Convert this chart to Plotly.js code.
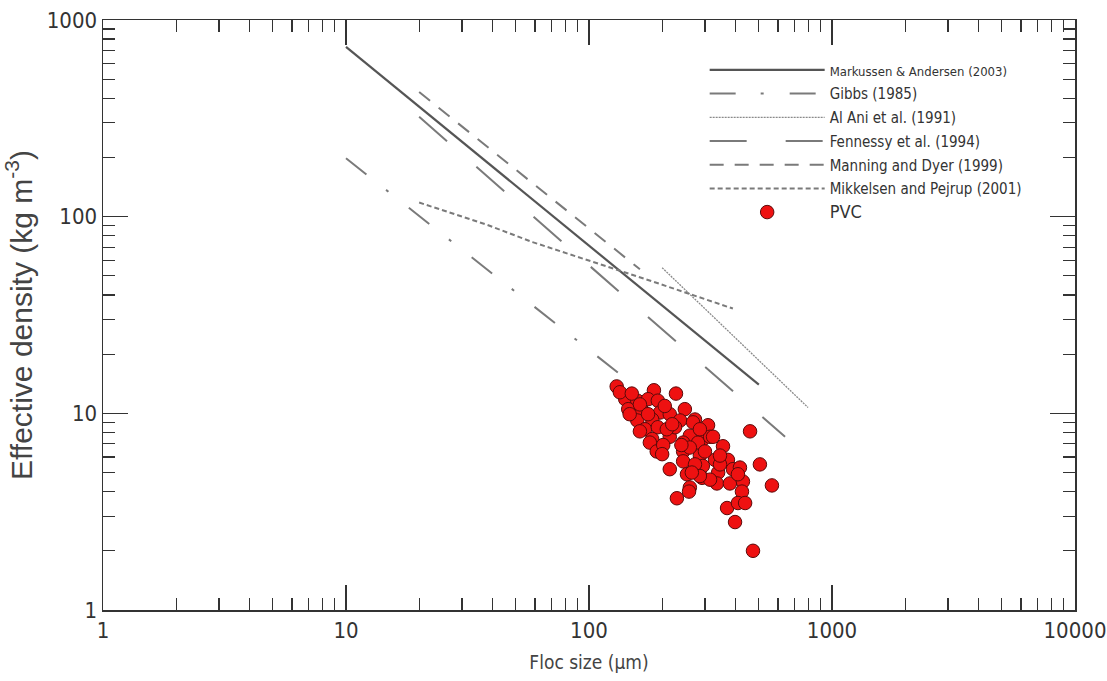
<!DOCTYPE html>
<html>
<head>
<meta charset="utf-8">
<script src="https://cdn.plot.ly/plotly-3.0.1.min.js"></script>
<style>html,body{margin:0;padding:0;background:#fff;}#chart{width:1107px;height:681px;}</style>
</head>
<body>
<div id="chart"></div>
<script>
// Literature effective density relations (floc size µm, density kg m-3)
const markussenX = [10, 500];
const markussenY = [730, 14];
const gibbsX = [10, 152];
const gibbsY = [198, 14];
const alAniX = [200, 797];
const alAniY = [55, 10.7];
const fennessyX = [20, 641];
const fennessyY = [322, 7.6];
const manningX = [20, 162];
const manningY = [430, 54];
const mikkelsenX = [20, 38, 59, 98, 183, 278, 391];
const mikkelsenY = [118, 91, 74, 60.5, 46.8, 39.3, 34.1];

// PVC measurements
const pvcSize = [130,185,228,141,158,175,192,145,165,196,215,248,273,158,182,237,170,192,215,260,
  182,292,244,309,268,178,190,244,281,315,356,244,286,330,373,215,253,294,340,391,
  292,336,380,260,505,566,418,430,426,370,410,439,399,473,230,258,460,134,150,205,
  226,260,202,300,346,273,315,324,162,209,162,200,175,286,346,286,410,220,147,240,265];
const pvcDensity = [13.7,13.1,12.6,11.8,11.6,11.8,11.6,10.5,10.4,10.1,9.9,10.5,9.3,9.2,9.3,9.2,8.3,8.5,7.6,7.7,
  7.4,7.3,7.1,8.7,9.0,7.1,6.4,6.4,7.1,7.6,6.8,5.7,6.1,5.8,5.8,5.2,4.9,5.4,5.0,5.2,
  4.7,4.4,4.4,4.2,5.5,4.3,5.3,4.5,4.0,3.3,3.5,3.5,2.8,2.0,3.7,4.0,8.1,12.8,12.6,10.9,
  8.5,6.7,6.9,6.4,5.5,5.5,4.6,7.6,11.1,8.3,8.1,6.2,9.9,8.3,6.1,4.8,4.9,8.8,9.9,6.9,5.0];

const xTickVals = [1, 10, 100, 1000, 10000];
const xTickText = ['1', '10', '100', '1000', '10000'];
const yTickVals = [1, 10, 100, 1000];
const yTickText = ['1', '10', '100', '1000'];

function minorVals(lo, hi) {
  const v = [];
  for (let d = lo; d < hi; d++) for (let k = 2; k <= 9; k++) v.push(k * Math.pow(10, d));
  return v;
}

const NARROW = 'Liberation Sans Narrow, DejaVu Sans Condensed, Arial Narrow, Liberation Sans, sans-serif';

const traces = [
  {x: markussenX, y: markussenY, mode: 'lines', legendgroup: 'a', name: '<span style="font-size:13px">Markussen &amp; Andersen (2003)</span>',
   line: {color: '#555555', width: 2.2}},
  {x: gibbsX, y: gibbsY, mode: 'lines', legendgroup: 'b', name: 'Gibbs (1985)',
   line: {color: '#7a7a7a', width: 2, dash: '26px,25px,3px,26px'}},
  {x: alAniX, y: alAniY, mode: 'lines', legendgroup: 'c', name: 'Al Ani et al. (1991)',
   line: {color: '#8a8a8a', width: 1.3, dash: '2px,1px'}},
  {x: fennessyX, y: fennessyY, mode: 'lines', legendgroup: 'd', name: 'Fennessy et al. (1994)',
   line: {color: '#7a7a7a', width: 2, dash: '37px,39px'}},
  {x: manningX, y: manningY, mode: 'lines', legendgroup: 'e', name: 'Manning and Dyer (1999)',
   line: {color: '#7a7a7a', width: 2, dash: '14px,11px'}},
  {x: mikkelsenX, y: mikkelsenY, mode: 'lines', legendgroup: 'f', name: 'Mikkelsen and Pejrup (2001)',
   line: {color: '#7a7a7a', width: 2, dash: '5px,3px'}},
  {x: pvcSize, y: pvcDensity, mode: 'markers', legendgroup: 'g', name: '<span style="font-size:18px">PVC</span>',
   marker: {color: '#ee1111', size: 13.5, line: {color: '#5a0a0a', width: 1}}}
];

const axisCommon = {
  type: 'log', showgrid: false, zeroline: false, showline: true, linecolor: '#333333', linewidth: 1.5,
  mirror: 'ticks', ticks: 'inside', ticklen: 25, tickwidth: 1.3, tickcolor: '#333333',
  tickfont: {family: NARROW, size: 22, color: '#333333'},
  tickmode: 'array'
};

const layout = {
  width: 1107, height: 681,
  margin: {l: 103, r: 32, t: 20, b: 71},
  paper_bgcolor: '#ffffff', plot_bgcolor: '#ffffff',
  font: {family: 'Liberation Sans, Arial, sans-serif', color: '#333333'},
  showlegend: true,
  legend: {x: 0.619, y: 0.943, xanchor: 'left', yanchor: 'top', bgcolor: 'rgba(0,0,0,0)',
           font: {family: NARROW, size: 15, color: '#333333'}, itemwidth: 115, tracegroupgap: 1.2},
  xaxis: Object.assign({}, axisCommon, {
    range: [0, 4], tickvals: xTickVals, ticktext: xTickText,
    minor: {tickmode: 'array', tickvals: minorVals(0, 4), ticks: 'inside', ticklen: 12, tickcolor: '#333333', tickwidth: 1.2, showgrid: false},
    title: {text: 'Floc size (µm)', font: {family: NARROW, size: 19, color: '#444444'}, standoff: 14}
  }),
  yaxis: Object.assign({}, axisCommon, {
    range: [0, 3], tickvals: yTickVals, ticktext: yTickText,
    minor: {tickmode: 'array', tickvals: minorVals(0, 3), ticks: 'inside', ticklen: 12, tickcolor: '#333333', tickwidth: 1.2, showgrid: false},
    title: {text: 'Effective density (kg m<sup>-3</sup>)', font: {size: 30, color: '#444444'}, standoff: 8}
  })
};

Plotly.newPlot('chart', traces, layout, {displayModeBar: false, staticPlot: true});
</script>
</body>
</html>
